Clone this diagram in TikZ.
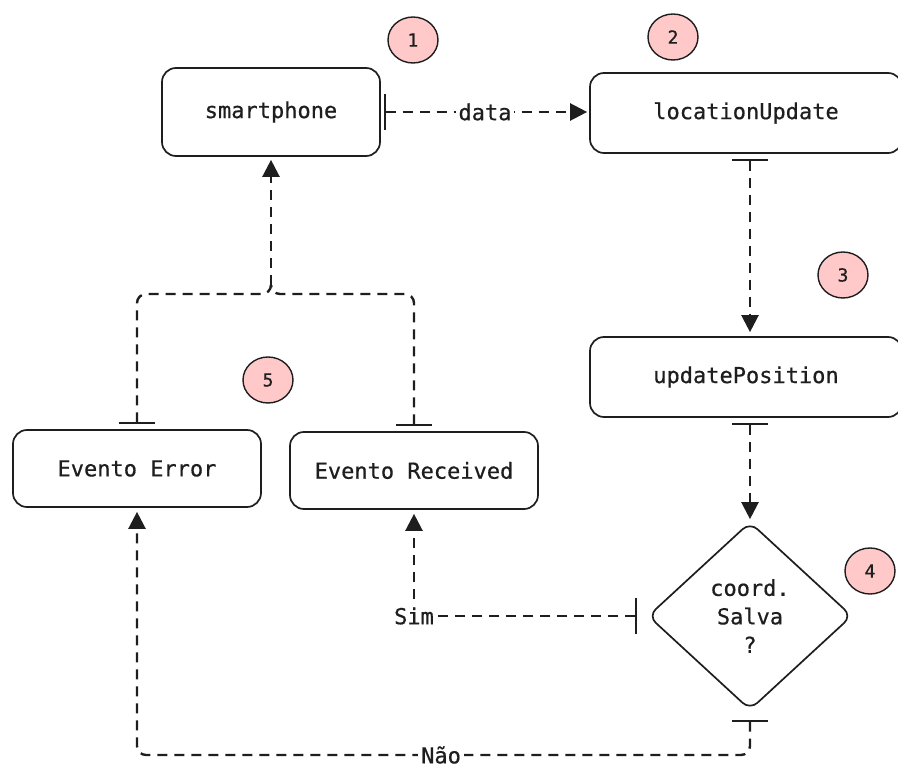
\documentclass[tikz,border=0pt]{standalone}
\usepackage{fontspec}
\newfontfamily\diagmono[FakeBold=0.6]{DejaVu Sans Mono}
\usetikzlibrary{shapes.geometric,arrows.meta}
\definecolor{ink}{HTML}{1E1E1E}
\definecolor{badgefill}{HTML}{FFC9C9}
\newcommand\diagfont{\fontsize{22}{28.5}\selectfont\diagmono}
\newcommand\badgefont{\fontsize{18}{20}\selectfont\diagmono}

\begin{document}
\begin{tikzpicture}[x=1pt,y=-1pt,
  box/.style={draw=ink, line width=1.7pt, rounded corners=14pt, inner sep=0pt,
    text=ink, font=\diagfont},
  decision/.style={diamond, draw=ink, line width=1.7pt, rounded corners=10pt,
    inner sep=0pt, text=ink, font=\diagfont, align=center},
  badge/.style={ellipse, draw=ink, line width=1.4pt, fill=badgefill, inner sep=0pt,
    minimum width=50pt, minimum height=46pt, text=ink, font=\badgefont},
  link/.style={draw=ink, line width=2.4pt, dash pattern=on 10pt off 7pt},
  teestart/.style={{Bar[width=36pt,line width=2.4pt]}-},
  conn/.style={link, {Bar[width=36pt,line width=2.4pt]}-{Triangle[length=17pt,width=17pt]}},
  headonly/.style={link, -{Triangle[length=17pt,width=17pt]}},
  lbl/.style={fill=white, inner sep=3pt, text=ink, font=\diagfont}]

\useasboundingbox (0,0) rectangle (898,767);

% process boxes
\node[box, minimum width=218pt, minimum height=88pt] (smart) at (271,112) {smartphone};
\node[box, minimum width=312pt, minimum height=80pt] (locu) at (746,113) {locationUpdate};
\node[box, minimum width=312pt, minimum height=80pt] (updp) at (746,377) {updatePosition};
\node[box, minimum width=248pt, minimum height=77pt] (err) at (137,468.5) {Evento Error};
\node[box, minimum width=248pt, minimum height=77pt] (recv) at (414,470.5) {Evento Received};

% decision
\node[decision, minimum width=204pt, minimum height=188pt] (dia) at (750,616)
  {coord.\\Salva\\?};

% step badges
\node[badge] (b1) at (413,40) {1};
\node[badge] (b2) at (673,37) {2};
\node[badge] (b3) at (843,275) {3};
\node[badge] (b4) at (870,571) {4};
\node[badge] (b5) at (268,380) {5};

% helper rows for the elbow connectors
\coordinate (joinrow) at (0,294);
\coordinate (bottomrow) at (0,755);
\coordinate (join) at (smart.south |- joinrow);

% connectors
\draw[conn, shorten <=3pt, shorten >=2pt]
  (smart.east) -- node[lbl] {data} (smart.east -| locu.west);

\draw[conn, shorten <=5pt, shorten >=4pt]
  (locu.south -| dia.north) -- (updp.north -| dia.north);

\draw[conn, shorten <=5pt, shorten >=2pt]
  (updp.south -| dia.north) -- (dia.north);

\draw[conn, shorten <=10pt, shorten >=4pt]
  (dia.west) -- (dia.west -| recv.south) coordinate (simcorner) -- (recv.south);
\node[lbl] (sim) at (simcorner) {Sim};

\draw[conn, rounded corners=9pt, shorten <=9pt, shorten >=4pt]
  (dia.south) -- (dia.south |- bottomrow)
  -- node[lbl, pos=0.504, inner ysep=1pt] (nao) {Não} (err.south |- bottomrow) -- (err.south);

% both events merge into one line back to the smartphone
\draw[link, teestart, rounded corners=9pt, shorten <=5pt]
  (err.north) -- (err.north |- join) -- (join) -- ++(0,-9) coordinate (stem);
\draw[link, teestart, rounded corners=9pt, shorten <=5pt]
  (recv.north) -- (recv.north |- join) -- (join) -- ++(0,-9);
\draw[headonly, shorten >=3pt] (stem) -- (smart.south);

\end{tikzpicture}
\end{document}
